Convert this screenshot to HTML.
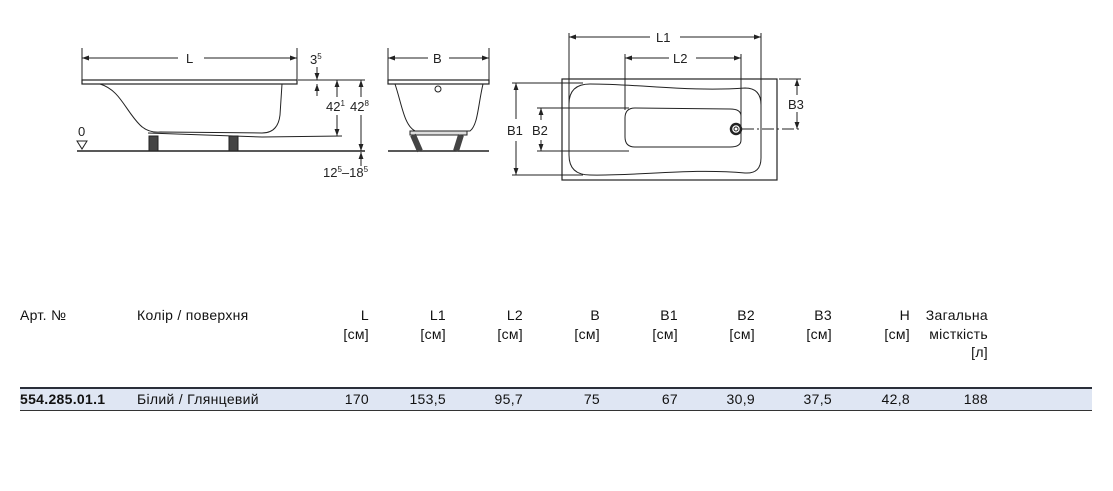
<!DOCTYPE html>
<html><head><meta charset="utf-8"><style>
body{margin:0;width:1113px;height:491px;background:#fff;overflow:hidden;font-family:"Liberation Sans",sans-serif;color:#111}
.t{position:absolute;font-size:14px;line-height:18.5px;white-space:nowrap;letter-spacing:0.3px}
.r{text-align:right}
</style></head><body>
<svg width="1113" height="300" style="position:absolute;left:0;top:0" font-family="Liberation Sans, sans-serif" font-size="13" fill="none" stroke="#222" stroke-width="1">
<defs><marker id="a" viewBox="0 0 10 10" refX="10" refY="5" markerWidth="7" markerHeight="7" orient="auto-start-reverse"><path d="M0,1.5L10,5L0,8.5z" fill="#222" stroke="none"/></marker></defs>
<line x1="82" y1="48" x2="82" y2="80"/><line x1="297" y1="48" x2="297" y2="80"/>
<line x1="82" y1="58" x2="178" y2="58" marker-start="url(#a)"/><line x1="204" y1="58" x2="297" y2="58" marker-end="url(#a)"/>
<text x="186" y="63" fill="#222" stroke="none">L</text>
<rect x="82" y="80" width="215" height="4" stroke-width="1.2"/>
<path d="M100,84 C120,90 125,110 140,125 Q148,133 160,132 L262,133 Q278,133 280,115 L282,84"/>
<path d="M148,133 L262,137 L342,136"/>
<line x1="77" y1="151" x2="365" y2="151" stroke-width="1.5"/>
<rect x="149" y="136" width="9" height="15" fill="#444"/><rect x="229" y="136" width="9" height="15" fill="#444"/>
<text x="78" y="136" fill="#222" stroke="none">0</text>
<path d="M77,141 L87,141 L82,149 Z"/>
<line x1="298" y1="80" x2="365" y2="80"/>
<line x1="317" y1="67" x2="317" y2="80" marker-end="url(#a)"/><line x1="317" y1="96" x2="317" y2="84" marker-end="url(#a)"/>
<text x="310" y="64" fill="#222" stroke="none">3<tspan font-size="8" dy="-5">5</tspan></text>
<line x1="337" y1="80" x2="337" y2="136" marker-start="url(#a)" marker-end="url(#a)"/>
<line x1="361" y1="80" x2="361" y2="151" marker-start="url(#a)" marker-end="url(#a)"/>
<rect x="327" y="97" width="20" height="18" fill="#fff" stroke="none"/><rect x="350" y="97" width="24" height="18" fill="#fff" stroke="none"/>
<text x="326" y="111" fill="#222" stroke="none">42<tspan font-size="8" dy="-5">1</tspan></text>
<text x="350" y="111" fill="#222" stroke="none">42<tspan font-size="8" dy="-5">8</tspan></text>
<line x1="361" y1="166" x2="361" y2="152" marker-end="url(#a)"/>
<text x="323" y="177" fill="#222" stroke="none">12<tspan font-size="8" dy="-5">5</tspan><tspan dy="5">–18</tspan><tspan font-size="8" dy="-5">5</tspan></text>
<line x1="388" y1="48" x2="388" y2="80"/><line x1="489" y1="48" x2="489" y2="80"/>
<line x1="388" y1="58" x2="428" y2="58" marker-start="url(#a)"/><line x1="449" y1="58" x2="489" y2="58" marker-end="url(#a)"/>
<text x="433" y="63" fill="#222" stroke="none">B</text>
<rect x="388" y="80" width="101" height="4" stroke-width="1.2"/>
<path d="M395,84 C402,105 404,125 415,131 L470,131 C478,125 478,105 483,84"/>
<circle cx="438" cy="89" r="3"/>
<rect x="410" y="131" width="57" height="4" fill="#ddd"/>
<line x1="388" y1="151" x2="489" y2="151" stroke-width="1.5"/>
<path d="M413,135 L420,151 M461,135 L456,151" stroke="#444" stroke-width="6"/>
<rect x="562" y="79" width="215" height="101" stroke-width="1.2"/>
<path d="M590,84 C640,84 690,92 745,88 Q761,88 761,105 L761,158 Q761,174 745,173 C690,168 640,176 590,175 Q569,175 569,155 L569,104 Q569,84 590,84 Z"/>
<path d="M635,108 L730,109 Q741,109 741,116 L741,140 Q741,147 730,147 L635,147 Q625,147 625,137 L625,118 Q625,108 635,108 Z"/>
<circle cx="736" cy="129" r="5" stroke-width="2.5"/><circle cx="736" cy="129" r="2"/>
<line x1="569" y1="33" x2="569" y2="110"/><line x1="761" y1="33" x2="761" y2="138"/>
<line x1="569" y1="37" x2="650" y2="37" marker-start="url(#a)"/><line x1="680" y1="37" x2="761" y2="37" marker-end="url(#a)"/>
<text x="656" y="42" fill="#222" stroke="none">L1</text>
<line x1="625" y1="54" x2="625" y2="110"/><line x1="741" y1="54" x2="741" y2="122"/>
<line x1="625" y1="58" x2="669" y2="58" marker-start="url(#a)"/><line x1="696" y1="58" x2="741" y2="58" marker-end="url(#a)"/>
<text x="673" y="63" fill="#222" stroke="none">L2</text>
<line x1="512" y1="83" x2="583" y2="83"/><line x1="512" y1="175" x2="583" y2="175"/>
<line x1="516" y1="83" x2="516" y2="119" marker-start="url(#a)"/><line x1="516" y1="141" x2="516" y2="175" marker-end="url(#a)"/>
<text x="507" y="135" fill="#222" stroke="none">B1</text>
<line x1="537" y1="108" x2="629" y2="108"/><line x1="537" y1="151" x2="629" y2="151"/>
<line x1="541" y1="108" x2="541" y2="120" marker-start="url(#a)"/><line x1="541" y1="140" x2="541" y2="151" marker-end="url(#a)"/>
<text x="532" y="135" fill="#222" stroke="none">B2</text>
<line x1="779" y1="79" x2="801" y2="79"/><line x1="742" y1="129" x2="801" y2="129" stroke-dasharray="12,3,2,3"/>
<line x1="797" y1="79" x2="797" y2="95" marker-start="url(#a)"/><line x1="797" y1="112" x2="797" y2="129" marker-end="url(#a)"/>
<text x="788" y="109" fill="#222" stroke="none">B3</text>
</svg>
<div class="t" style="left:20px;top:306px">Арт. №</div>
<div class="t" style="left:137px;top:306px">Колір / поверхня</div>
<div class="t r" style="left:319px;width:50px;top:306px">L<br>[см]</div>
<div class="t r" style="left:396px;width:50px;top:306px">L1<br>[см]</div>
<div class="t r" style="left:473px;width:50px;top:306px">L2<br>[см]</div>
<div class="t r" style="left:550px;width:50px;top:306px">B<br>[см]</div>
<div class="t r" style="left:628px;width:50px;top:306px">B1<br>[см]</div>
<div class="t r" style="left:705px;width:50px;top:306px">B2<br>[см]</div>
<div class="t r" style="left:782px;width:50px;top:306px">B3<br>[см]</div>
<div class="t r" style="left:860px;width:50px;top:306px">H<br>[см]</div>
<div class="t r" style="left:900px;width:88px;top:306px">Загальна<br>місткість<br>[л]</div>
<div style="position:absolute;left:20px;top:387px;width:1072px;height:21px;background:#dfe6f3;border-top:2px solid #2a2f3a;border-bottom:1.5px solid #333"></div>
<div class="t" style="left:20px;top:390px;font-weight:bold">554.285.01.1</div>
<div class="t" style="left:137px;top:390px">Білий / Глянцевий</div>
<div class="t r" style="left:309px;width:60px;top:390px">170</div>
<div class="t r" style="left:386px;width:60px;top:390px">153,5</div>
<div class="t r" style="left:463px;width:60px;top:390px">95,7</div>
<div class="t r" style="left:540px;width:60px;top:390px">75</div>
<div class="t r" style="left:618px;width:60px;top:390px">67</div>
<div class="t r" style="left:695px;width:60px;top:390px">30,9</div>
<div class="t r" style="left:772px;width:60px;top:390px">37,5</div>
<div class="t r" style="left:850px;width:60px;top:390px">42,8</div>
<div class="t r" style="left:928px;width:60px;top:390px">188</div>
</body></html>
